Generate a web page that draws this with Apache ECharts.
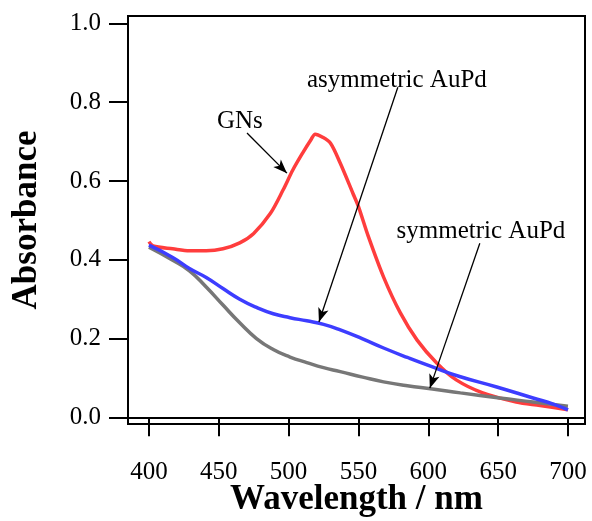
<!DOCTYPE html>
<html><head><meta charset="utf-8">
<script src="https://cdn.jsdelivr.net/npm/echarts@6/dist/echarts.min.js"></script>
<style>html,body{margin:0;padding:0;background:#fff}#c{width:592px;height:521px}</style>
</head><body><div id="c"></div>
<script>
const xTicks = [400, 450, 500, 550, 600, 650, 700];
const yTicks = [0, 0.2, 0.4, 0.6, 0.8, 1.0];
const gnsX = [400,403,417,429,441,453,465,475,487,496,503,510,516,519,524,530,537,546,550,557,568,580,592,606,620,639,663,680,700];
const gnsY = [0.446,0.435,0.428,0.423,0.423,0.428,0.443,0.467,0.518,0.577,0.628,0.671,0.705,0.719,0.712,0.696,0.645,0.569,0.535,0.460,0.356,0.265,0.196,0.138,0.095,0.062,0.039,0.030,0.019];
const asymX = [400,417,429,441,453,465,477,489,501,513,525,537,553,568,585,603,623,649,675,690,700];
const asymY = [0.437,0.406,0.378,0.355,0.327,0.300,0.279,0.263,0.253,0.245,0.236,0.222,0.199,0.176,0.152,0.128,0.103,0.077,0.049,0.033,0.019];
const symX = [400,417,429,441,453,465,477,489,501,513,525,537,553,568,585,603,623,651,675,700];
const symY = [0.432,0.399,0.372,0.331,0.285,0.240,0.200,0.172,0.153,0.139,0.126,0.116,0.102,0.090,0.080,0.072,0.062,0.049,0.039,0.028];
const notes = [
  {text:'GNs', at:[465.1,0.752], from:[470.2,0.722], to:[498.8,0.620]},
  {text:'asymmetric AuPd', at:[577.5,0.856], from:[578.2,0.838], to:[521.7,0.242]},
  {text:'symmetric AuPd', at:[637.7,0.473], from:[636.9,0.442], to:[601.1,0.074]}
];
const zip = (a,b)=>a.map((v,i)=>[v,b[i]]);
const serif = '"Liberation Serif","Times New Roman",serif';
const chart = echarts.init(document.getElementById('c'));
chart.setOption({
  animation:false,
  grid:{left:128,top:16,right:7,bottom:97,show:true,borderColor:'#000',borderWidth:2,backgroundColor:'transparent',outerBoundsMode:'none',containLabel:false},
  xAxis:{type:'value',min:385,max:712.2,
    name:'Wavelength / nm',nameLocation:'middle',nameGap:58,nameMoveOverlap:false,
    nameTextStyle:{fontFamily:serif,fontWeight:'bold',fontSize:35,color:'#000'},
    axisLine:{lineStyle:{color:'#000',width:2}},
    axisTick:{show:true,inside:false,length:19,lineStyle:{color:'#000',width:2},customValues:xTicks},
    axisLabel:{fontFamily:serif,fontSize:25,color:'#000',margin:36,customValues:xTicks},
    splitLine:{show:false}},
  yAxis:{type:'value',min:-0.017,max:1.019,
    name:'Absorbance',nameLocation:'middle',nameGap:84,nameRotate:90,nameMoveOverlap:false,
    nameTextStyle:{fontFamily:serif,fontWeight:'bold',fontSize:35,color:'#000'},
    axisLine:{lineStyle:{color:'#000',width:2}},
    axisTick:{show:true,inside:false,length:19,lineStyle:{color:'#000',width:2},customValues:yTicks},
    axisLabel:{fontFamily:serif,fontSize:25,color:'#000',margin:27,customValues:yTicks,formatter:v=>v.toFixed(1)},
    splitLine:{show:false}},
  series:[
    {type:'line',data:zip(gnsX,gnsY),showSymbol:false,smooth:0.3,lineStyle:{color:'#ff3d3d',width:3.5},itemStyle:{color:'#ff3d3d'},
     markLine:{silent:true,symbol:['none','arrow'],symbolSize:[8,14],lineStyle:{color:'#000',width:1.3,type:'solid'},label:{show:false},
       data:notes.map(n=>[{coord:n.from},{coord:n.to}])},
     markPoint:{silent:true,symbol:'circle',symbolSize:0,
       label:{show:true,position:'inside',fontFamily:serif,fontSize:25,color:'#000',formatter:p=>p.name},
       data:notes.map(n=>({name:n.text,coord:n.at}))}},
    {type:'line',data:zip(symX,symY),showSymbol:false,smooth:0.5,lineStyle:{color:'#777777',width:3.5},itemStyle:{color:'#777777'}},
    {type:'line',data:zip(asymX,asymY),showSymbol:false,smooth:0.5,lineStyle:{color:'#3d3dff',width:3.5},itemStyle:{color:'#3d3dff'}}
  ]
});
</script></body></html>
